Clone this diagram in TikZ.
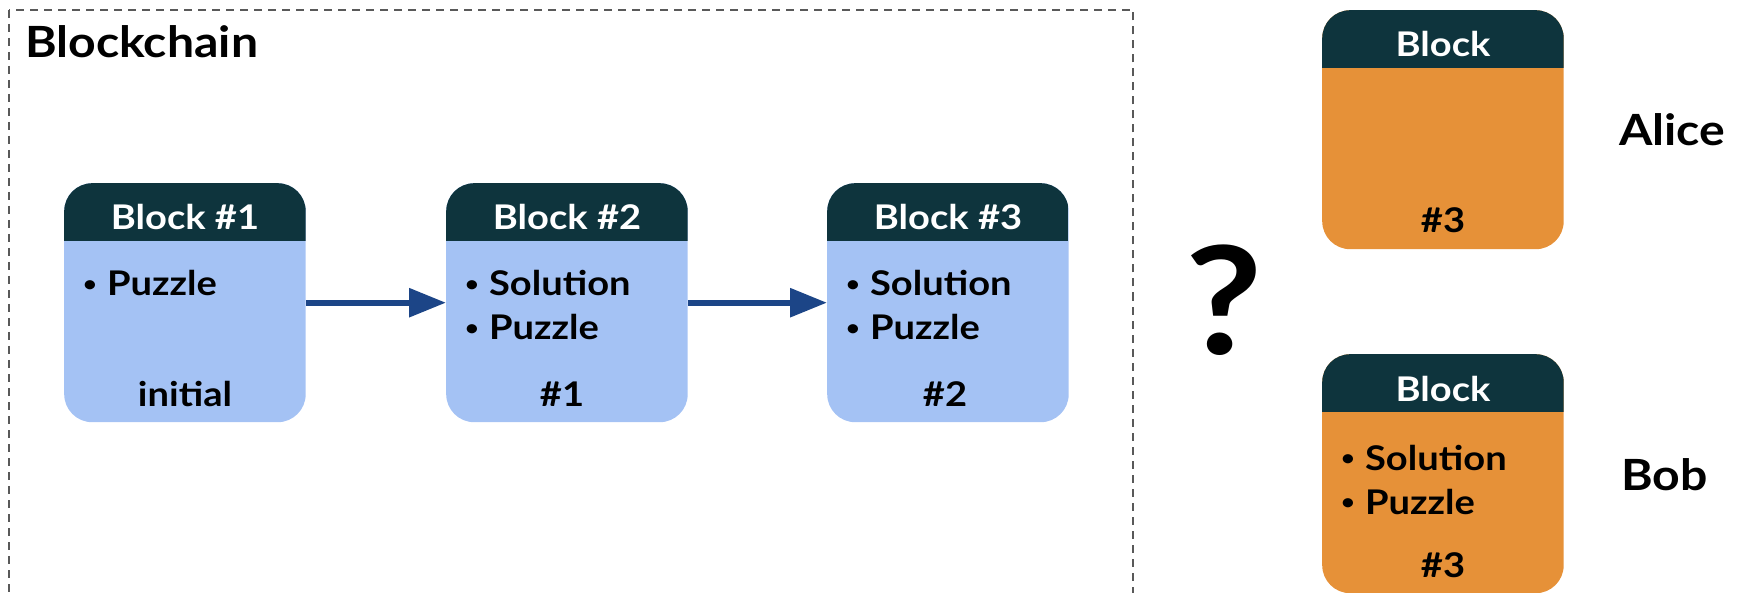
\documentclass[tikz,border=0pt]{standalone}
\usepackage{fontspec}
\setmainfont{Lato}[FakeStretch=1.12]
\usetikzlibrary{arrows.meta}
\definecolor{hdr}{HTML}{0E343D}
\definecolor{bodyblue}{HTML}{A4C2F4}
\definecolor{bodyorange}{HTML}{E69138}
\definecolor{arrblue}{HTML}{1C4587}
\definecolor{dashgray}{HTML}{595959}
\newcommand{\smallbul}{\raisebox{0.14em}{\scalebox{0.62}{\textbullet}}\hspace{0.3em}}
\tikzset{
  blockbox/.style={rectangle, rounded corners=28pt, minimum width=241.5pt, minimum height=239pt,
    inner sep=0pt, anchor=north west, fill=#1,
    path picture={\fill[hdr, sharp corners] ([yshift=2pt]path picture bounding box.north west) rectangle ([yshift=-58pt]path picture bounding box.north east);}},
  hdrtext/.style={font=\fontsize{34}{41}\selectfont\bfseries, text=white, inner sep=0pt, anchor=base},
  bultext/.style={font=\fontsize{34}{41}\selectfont\bfseries, text=black, inner sep=0pt, anchor=base west},
  foottext/.style={font=\fontsize{34}{41}\selectfont\bfseries, text=black, inner sep=0pt, anchor=base},
  bigtext/.style={font=\fontsize{43}{52}\selectfont\bfseries, text=black, inner sep=0pt, anchor=base west},
  arr/.style={draw=arrblue, line width=6pt, -{Triangle[length=37pt,width=28pt]}},
  dashbox/.style={draw=dashgray, line width=2pt, dash pattern=on 8pt off 6pt}
}
\begin{document}
\begin{tikzpicture}[x=1pt,y=-1pt]
\useasboundingbox (0,0) rectangle (1742,593);
\begin{scope}
  \clip (0,0) rectangle (1742,593);
  \draw[dashbox] (8.5,10) rectangle (1133,650);
\end{scope}
\node[bigtext] (title) at (25,58) {Blockchain};

% chain blocks
\node[blockbox=bodyblue] (b1) at (64,183) {};
\node[blockbox=bodyblue] (b2) at (446,183) {};
\node[blockbox=bodyblue] (b3) at (827,183) {};

\node[hdrtext] (b1h) at (185,230) {Block \#1};
\node[hdrtext] (b2h) at (567,230) {Block \#2};
\node[hdrtext] (b3h) at (948,230) {Block \#3};

\node[bultext] (b1a) at (83,296) {\smallbul Puzzle};
\node[foottext] (b1f) at (185,406) {initial};

\node[bultext] (b2a) at (465,296) {\smallbul Solution};
\node[bultext] (b2b) at (465,340) {\smallbul Puzzle};
\node[foottext] (b2f) at (562,406) {\#1};

\node[bultext] (b3a) at (846,296) {\smallbul Solution};
\node[bultext] (b3b) at (846,340) {\smallbul Puzzle};
\node[foottext] (b3f) at (945,406) {\#2};

\draw[arr] (b1) -- (b2);
\draw[arr] (b2) -- (b3);

% question mark
\node[font=\fontsize{150}{160}\selectfont\bfseries, inner sep=0pt, anchor=base] (q) at (1224,355) {?};

% Alice / Bob blocks
\node[blockbox=bodyorange] (ba) at (1322,10) {};
\node[hdrtext] (bah) at (1443,57) {Block};
\node[foottext] (baf) at (1443,233) {\#3};

\node[blockbox=bodyorange] (bb) at (1322,354) {};
\node[hdrtext] (bbh) at (1443,401) {Block};
\node[bultext] (bba) at (1341,470) {\smallbul Solution};
\node[bultext] (bbb) at (1341,514) {\smallbul Puzzle};
\node[foottext] (bbf) at (1443,577) {\#3};

\node[bigtext] (alice) at (1619,146) {Alice};
\node[bigtext] (bob) at (1621,490) {Bob};
\end{tikzpicture}
\end{document}
